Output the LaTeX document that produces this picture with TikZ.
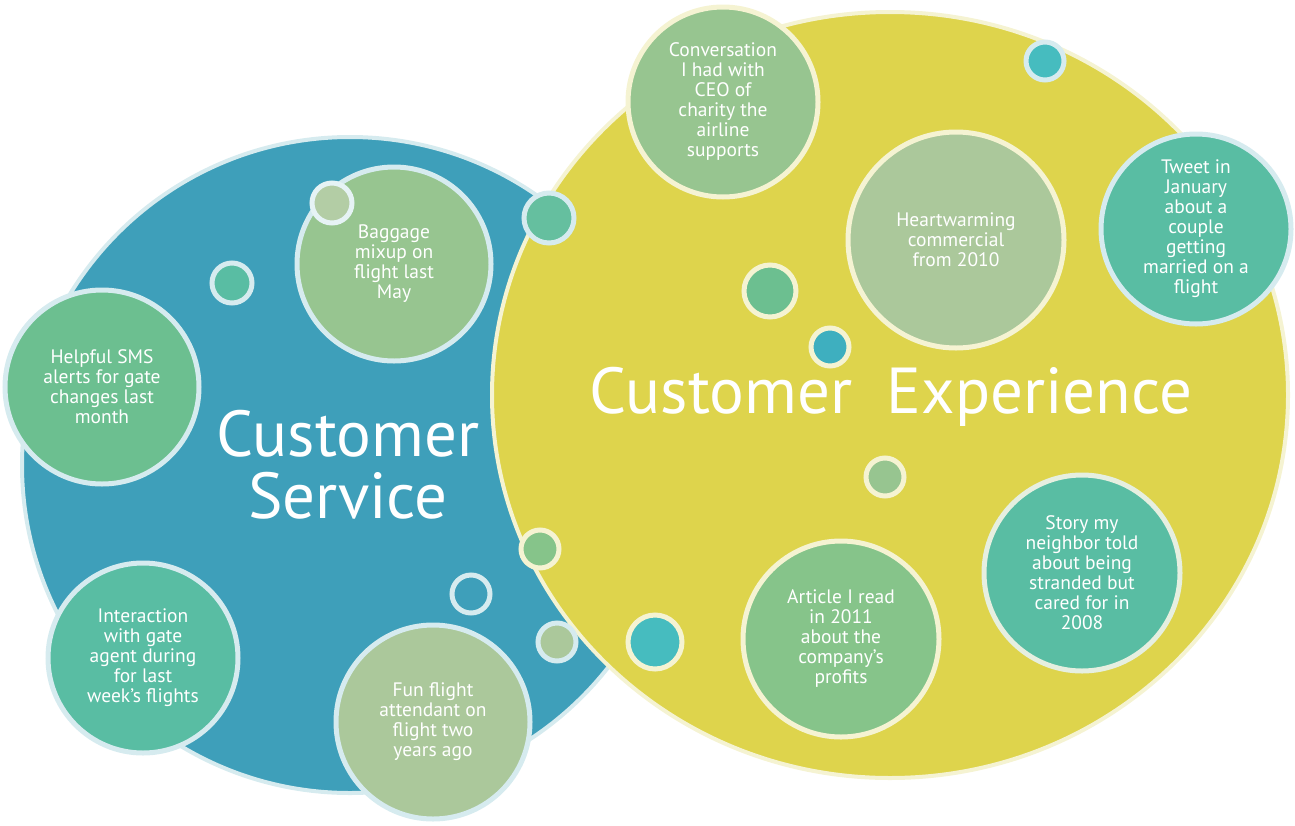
\documentclass[tikz,border=0pt]{standalone}
\usepackage{fontspec}
\setmainfont{PT Sans}
\usetikzlibrary{shapes.geometric}

\definecolor{serviceblue}{HTML}{3E9FBA}
\definecolor{experienceyellow}{HTML}{DED44C}
\definecolor{ringblue}{HTML}{D6EBEF}
\definecolor{ringyellow}{HTML}{F5F3D2}
\definecolor{leafgreen}{HTML}{97C590}
\definecolor{sagegreen}{HTML}{ABC89B}
\definecolor{seagreen}{HTML}{6CBF90}
\definecolor{tealgreen}{HTML}{59BDA3}
\definecolor{mintgreen}{HTML}{86C48A}
\definecolor{aqua}{HTML}{46BCBF}
\definecolor{dotblue}{HTML}{3EAFBF}

\begin{document}
\begin{tikzpicture}[x=1pt, y=-1pt,
  bubble/.style = {draw, circle, line width=5pt, text=white, align=center, inner sep=0pt, font=\fontsize{19.5}{20}\selectfont},
  dot/.style = {draw, circle, line width=5pt, inner sep=0pt},
  title/.style = {text=white, align=center, font=\fontsize{65}{62}\selectfont}]
\useasboundingbox (0,0) rectangle (1295,825);

% the two big circles
\node[circle, fill=serviceblue, draw=ringblue, line width=4pt, minimum size=656pt] (service) at (350,465) {};
\node[ellipse, fill=experienceyellow, draw=ringyellow, line width=4pt, minimum width=796pt, minimum height=766pt] (experience) at (890,395) {};

% customer service
\node[bubble, fill=leafgreen, draw=ringblue, minimum size=194pt] (baggage) at (394,264) {Baggage\\mixup on\\flight last\\May};
\node[dot, fill=sagegreen!90!white, draw=ringblue!60!white, minimum size=40pt] (baggagedot) at (332,203) {};
\node[dot, fill=tealgreen, draw=ringblue, minimum size=40pt] (sdot1) at (232,283) {};
\node[bubble, fill=seagreen, draw=ringblue, minimum size=194pt] (sms) at (102,387) {Helpful SMS\\alerts for gate\\changes last\\month};
\node[bubble, fill=tealgreen, draw=ringblue, minimum size=190pt] (gate) at (143,658) {Interaction\\with gate\\agent during\\for last\\week’s flights};
\node[bubble, fill=sagegreen, draw=ringblue, minimum size=194pt] (attendant) at (433,722) {Fun flight\\attendant on\\flight two\\years ago};
\node[dot, draw=ringblue, minimum size=38pt] (ring) at (471,594) {};
\node[dot, fill=mintgreen, draw=ringyellow, minimum size=38pt] (sdot2) at (540,549) {};
\node[dot, fill=sagegreen, draw=ringblue, minimum size=38pt] (sdot3) at (557,642) {};
\node[dot, fill=tealgreen!80!leafgreen, draw=ringblue, minimum size=50pt] (sdot4) at (549,218) {};
\node[title] (servicetitle) at (348,465) {Customer\\Service};

% customer experience
\node[bubble, fill=leafgreen, draw=ringyellow, minimum size=190pt] (ceo) at (723,102) {Conversation\\I had with\\CEO of\\charity the\\airline\\supports};
\node[dot, fill=aqua, draw=ringblue, minimum size=38pt] (xdot1) at (1045,61) {};
\node[bubble, fill=sagegreen, draw=ringyellow, minimum size=216pt] (commercial) at (956,240) {Heartwarming\\commercial\\from 2010};
\node[bubble, fill=tealgreen, draw=ringblue, minimum size=190pt] (tweet) at (1196,229) {Tweet in\\January\\about a\\couple\\getting\\married on a\\flight};
\node[dot, fill=seagreen, draw=ringyellow, minimum size=52pt] (xdot2) at (770,291) {};
\node[dot, fill=dotblue, draw=ringyellow, minimum size=38pt] (xdot3) at (830,347) {};
\node[dot, fill=leafgreen, draw=ringyellow, minimum size=38pt] (xdot4) at (885,477) {};
\node[bubble, fill=tealgreen, draw=ringblue!50!ringyellow, minimum size=196pt] (story) at (1082,573) {Story my\\neighbor told\\about being\\stranded but\\cared for in\\2008};
\node[bubble, fill=mintgreen, draw=ringyellow, minimum size=196pt] (article) at (841,639) {Article I read\\in 2011\\about the\\company’s\\profits};
\node[dot, fill=aqua, draw=ringyellow, minimum size=54pt] (xdot5) at (655,642) {};
\node[title] (experiencetitle) at (891,397) {Customer~~Experience};
\end{tikzpicture}
\end{document}
